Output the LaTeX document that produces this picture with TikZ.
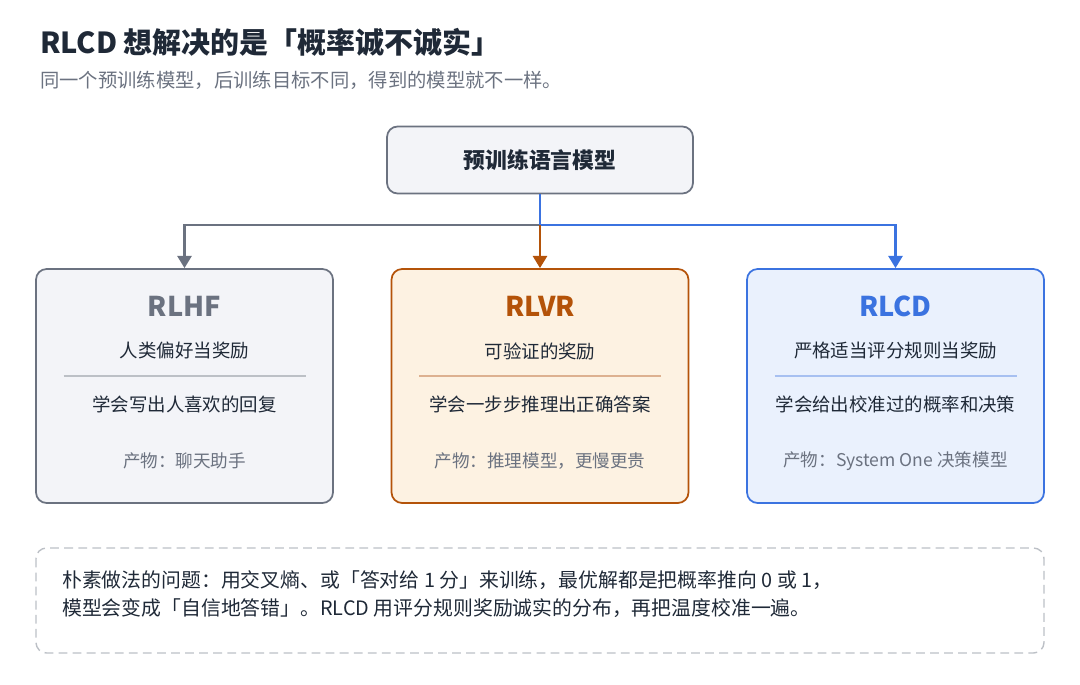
\documentclass[tikz,border=0pt]{standalone}
\usepackage{fontspec}
\setmainfont{Noto Sans CJK SC}
\usetikzlibrary{positioning,arrows.meta}
\definecolor{inkgray}{HTML}{6B7280}
\definecolor{txtdark}{HTML}{1F2937}
\definecolor{orng}{HTML}{B45309}
\definecolor{orngfill}{HTML}{FDF2E2}
\definecolor{blu}{HTML}{3B73E0}
\definecolor{blufill}{HTML}{EAF1FD}
\definecolor{grayfill}{HTML}{F3F4F8}
\tikzset{
  card/.style={draw, rounded corners=6pt, line width=1pt, minimum width=5.94cm, minimum height=4.68cm},
  ttl/.style={font=\fontsize{15.5}{18}\selectfont\bfseries},
  line/.style={font=\fontsize{10.5}{12}\selectfont, text=txtdark},
  foot/.style={font=\fontsize{10}{12}\selectfont, text=inkgray},
  link/.style={line width=1.6pt, -{Triangle[length=7pt,width=8pt]}}
}
\begin{document}
\begin{tikzpicture}[x=0.02cm,y=-0.02cm]
\useasboundingbox (0,0) rectangle (1080,684);
%header
\node[anchor=west, font=\fontsize{16.5}{19}\selectfont\bfseries, text=txtdark] (title) at (34,42) {RLCD 想解决的是「概率诚不诚实」};
\node[anchor=west, font=\fontsize{11}{13}\selectfont, text=inkgray] (sub) at (34,80) {同一个预训练模型，后训练目标不同，得到的模型就不一样。};
%base model
\node[draw=inkgray, fill=grayfill, rounded corners=6pt, line width=1pt, minimum width=6.12cm, minimum height=1.34cm,
  font=\fontsize{12.4}{14}\selectfont\bfseries, text=txtdark] (base) at (540,160) {预训练语言模型};
%cards
\node[card, draw=inkgray, fill=grayfill] (rlhf) at (184.5,386) {};
\node[card, draw=orng, fill=orngfill] (rlvr) at (540,386) {};
\node[card, draw=blu, fill=blufill] (rlcd) at (895.5,386) {};
\coordinate (split) at (540,225);
\draw[link, draw=inkgray] (base.south) -- (split) -| (rlhf.north);
\draw[link, draw=blu] (base.south) -- (split) -| (rlcd.north);
\draw[link, draw=orng] (split) -- (rlvr.north);
\foreach \n/\x/\c/\t/\a/\b/\f in {
  rlhf/184.5/inkgray/RLHF/人类偏好当奖励/学会写出人喜欢的回复/产物：聊天助手,
  rlvr/540/orng/RLVR/可验证的奖励/学会一步步推理出正确答案/产物：推理模型，更慢更贵,
  rlcd/895.5/blu/RLCD/严格适当评分规则当奖励/学会给出校准过的概率和决策/产物：System One 决策模型}{
  \node[ttl, text=\c] (\n-t) at (\x,306) {\t};
  \node[line] (\n-a) at (\x,351) {\a};
  \draw[\c!45, line width=0.8pt] (\x-121,376) -- (\x+121,376);
  \node[line] (\n-b) at (\x,404) {\b};
  \node[foot] (\n-f) at (\x,461) {\f};
}
%note
\draw[draw=inkgray!45, dashed, dash pattern=on 5pt off 3pt, rounded corners=6pt, line width=0.8pt] (36,548) rectangle (1044,653);
\node[anchor=west, line, font=\fontsize{11.3}{13}\selectfont] (note1) at (56,580) {朴素做法的问题：用交叉熵、或「答对给 1 分」来训练，最优解都是把概率推向 0 或 1，};
\node[anchor=west, line, font=\fontsize{11.3}{13}\selectfont] (note2) at (56,608) {模型会变成「自信地答错」。RLCD 用评分规则奖励诚实的分布，再把温度校准一遍。};
\end{tikzpicture}
\end{document}
